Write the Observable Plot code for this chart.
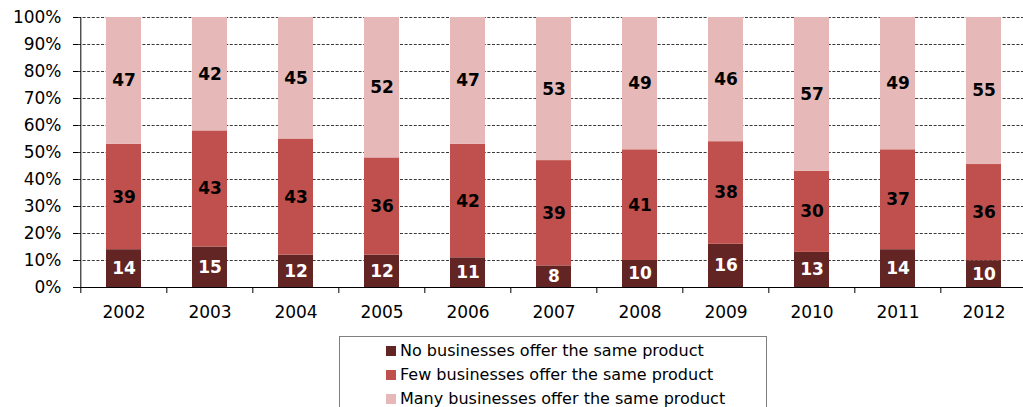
<!DOCTYPE html>
<html>
<head>
<meta charset="utf-8">
<script src="https://cdn.jsdelivr.net/npm/d3@7"></script>
<script src="https://cdn.jsdelivr.net/npm/@observablehq/plot@0.6"></script>
<style>
  html, body { margin: 0; padding: 0; background: #fff; overflow: hidden; }
  #wrap { position: relative; width: 1023px; height: 407px; font-family: "DejaVu Sans", Verdana, sans-serif; }
  #legend { position: absolute; left: 339px; top: 336px; width: 428px; height: 90px; border: 1px solid #7f7f7f; box-sizing: border-box; }
  .row { position: absolute; left: 46px; font-size: 16px; line-height: 20px; color: #000; white-space: nowrap; }
  .sw { display: inline-block; width: 10px; height: 10px; margin-right: 4px; vertical-align: 0px; }
</style>
</head>
<body>
<div id="wrap"><div id="chart"></div><div id="legend"></div></div>
<script>
const years = ["2002","2003","2004","2005","2006","2007","2008","2009","2010","2011","2012"];
const seriesNames = [
  "No businesses offer the same product",
  "Few businesses offer the same product",
  "Many businesses offer the same product"
];
const noBusinesses   = [14, 15, 12, 12, 11, 8, 10, 16, 13, 14, 10];
const fewBusinesses  = [39, 43, 43, 36, 42, 39, 41, 38, 30, 37, 36];
const manyBusinesses = [47, 42, 45, 52, 47, 53, 49, 46, 57, 49, 55];
const seriesColors = ["#632523", "#C0504D", "#E6B9B8"];
const labelColors = ["#ffffff", "#000000", "#000000"];
const yTicks = [0, 0.1, 0.2, 0.3, 0.4, 0.5, 0.6, 0.7, 0.8, 0.9, 1];

const seriesValues = [noBusinesses, fewBusinesses, manyBusinesses];
const data = [];
years.forEach((yr, i) => {
  seriesNames.forEach((s, k) => {
    data.push({year: yr, series: s, value: seriesValues[k][i], k});
  });
});

const W = 1023, H = 330, ML = 78, MR = -5, MT = 17, MB = 43;
const halfStep = (W - ML - MR) / years.length / 2;

const stackOpts = (extra) => Plot.stackY({
  x: "year", y: "value", z: "series", order: seriesNames, offset: "normalize", ...extra
});

const chart = Plot.plot({
  width: W, height: H,
  marginLeft: ML, marginRight: MR, marginTop: MT, marginBottom: MB,
  style: {fontFamily: "'DejaVu Sans', Verdana, sans-serif", fontSize: "17px", color: "#000", background: "#fff"},
  x: {domain: years, paddingInner: 0.595, paddingOuter: 0.2975, label: null},
  y: {domain: [0, 1], label: null},
  color: {type: "identity"},
  marks: [
    Plot.ruleY(yTicks.slice(1), {stroke: "#3a3a3a", strokeDasharray: "3,1.6", strokeWidth: 1}),
    Plot.barY(data, stackOpts({fill: d => seriesColors[d.k]})),
    Plot.text(data, stackOpts({
      text: d => String(d.value),
      fill: d => labelColors[d.k],
      fontWeight: "bold", fontSize: 17
    })),
    Plot.ruleY([0], {stroke: "#000"}),
    Plot.ruleX([years[0]], {x: d => d, dx: -halfStep, y1: 0, y2: 1, stroke: "#000"}),
    Plot.ruleX(years, {x: d => d, dx: -halfStep, y1: 0, y2: 0, insetBottom: -6, stroke: "#000"}),
    Plot.axisY({ticks: yTicks, tickFormat: d => Math.round(d * 100) + "%", tickSize: 5, tickPadding: 12, label: null, stroke: "#000"}),
    Plot.axisX({tickSize: 0, tickPadding: 18, label: null})
  ]
});
document.getElementById("chart").appendChild(chart);

const legend = document.getElementById("legend");
seriesNames.forEach((s, k) => {
  const row = document.createElement("div");
  row.className = "row";
  row.style.top = (4 + k * 24) + "px";
  const sw = document.createElement("span");
  sw.className = "sw";
  sw.style.background = seriesColors[k];
  row.appendChild(sw);
  row.appendChild(document.createTextNode(s));
  legend.appendChild(row);
});
</script>
</body>
</html>
